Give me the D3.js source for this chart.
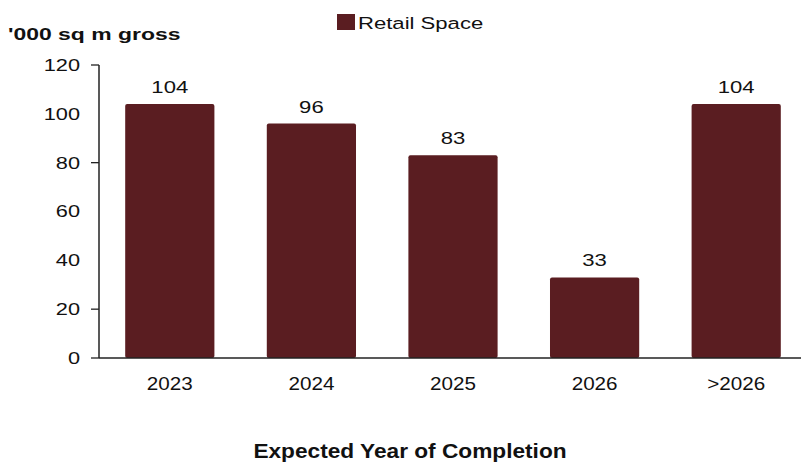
<!DOCTYPE html>
<html>
<head>
<meta charset="utf-8">
<script src="https://cdn.jsdelivr.net/npm/d3@7"></script>
<style>
  html, body { margin: 0; padding: 0; background: #ffffff; }
  svg { display: block; }
  text { font-family: "Liberation Sans", Arial, sans-serif; fill: #111; }
</style>
</head>
<body>
<svg id="chart" width="801" height="464"></svg>
<script>
// Retail space pipeline by expected year of completion ('000 sq m gross)
const categories = ["2023", "2024", "2025", "2026", ">2026"];
const retailSpace = [104, 96, 83, 33, 104];
const yTickValues = [0, 20, 40, 60, 80, 100, 120];
const yTickMarks = [0, 20, 80, 120];
const seriesName = "Retail Space";
const yTitle = "'000 sq m gross";
const xTitle = "Expected Year of Completion";

const barColor = "#5a1d21";
const axisColor = "#222";

const svg = d3.select("#chart");

const x = d3.scaleBand()
  .domain(categories)
  .range([99, 807])
  .paddingInner(0.37)
  .paddingOuter(0.185);

const y = d3.scaleLinear()
  .domain([0, 120])
  .range([358, 65]);

// Text helper: horizontally widened labels
function label(g, txt, px, py, opts) {
  const o = Object.assign({ size: 17, sx: 1.3, anchor: "start", weight: "normal", dy: 0 }, opts || {});
  return g.append("text")
    .attr("transform", `translate(${px},${py}) scale(${o.sx},1)`)
    .attr("text-anchor", o.anchor)
    .attr("dy", o.dy)
    .style("font-size", o.size + "px")
    .style("font-weight", o.weight)
    .text(txt);
}

// Bars
svg.append("g")
  .selectAll("rect")
  .data(retailSpace)
  .join("rect")
  .attr("x", (d, i) => x(categories[i]))
  .attr("y", d => y(d))
  .attr("width", x.bandwidth())
  .attr("height", d => y(0) - y(d))
  .attr("rx", 2)
  .attr("fill", barColor);

// Value labels
const vl = svg.append("g");
retailSpace.forEach((d, i) => {
  label(vl, d3.format("d")(d), x(categories[i]) + x.bandwidth() / 2, y(d) - 11, { anchor: "middle" });
});

// Y axis line and ticks
const yAxis = svg.append("g");
yAxis.append("line")
  .attr("x1", 99).attr("x2", 99)
  .attr("y1", y(120)).attr("y2", y(0))
  .attr("stroke", axisColor).attr("stroke-width", 1.5);
yAxis.selectAll("line.tick")
  .data(yTickMarks)
  .join("line")
  .attr("class", "tick")
  .attr("x1", 91).attr("x2", 99)
  .attr("y1", d => y(d)).attr("y2", d => y(d))
  .attr("stroke", axisColor).attr("stroke-width", 1.3);
yTickValues.forEach(v => {
  label(yAxis, String(v), 80, y(v), { anchor: "end", dy: "0.36em", size: 16.5, sx: 1.32 });
});

// X axis baseline
svg.append("line")
  .attr("x1", 99).attr("x2", 801)
  .attr("y1", y(0)).attr("y2", y(0))
  .attr("stroke", axisColor).attr("stroke-width", 1.5);

// Category labels
const xl = svg.append("g");
categories.forEach(c => {
  label(xl, c, x(c) + x.bandwidth() / 2, 390, { anchor: "middle", size: 17.5, sx: 1.18 });
});

// Axis titles
label(svg, yTitle, 8, 40, { weight: "bold", size: 17, sx: 1.35 });
label(svg, xTitle, 410, 458, { anchor: "middle", weight: "bold", size: 21, sx: 1.08 });

// Legend
const lg = svg.append("g");
lg.append("rect")
  .attr("x", 337).attr("y", 14)
  .attr("width", 18).attr("height", 16)
  .attr("fill", barColor);
label(lg, seriesName, 358, 29, { size: 17, sx: 1.3 });
</script>
</body>
</html>
